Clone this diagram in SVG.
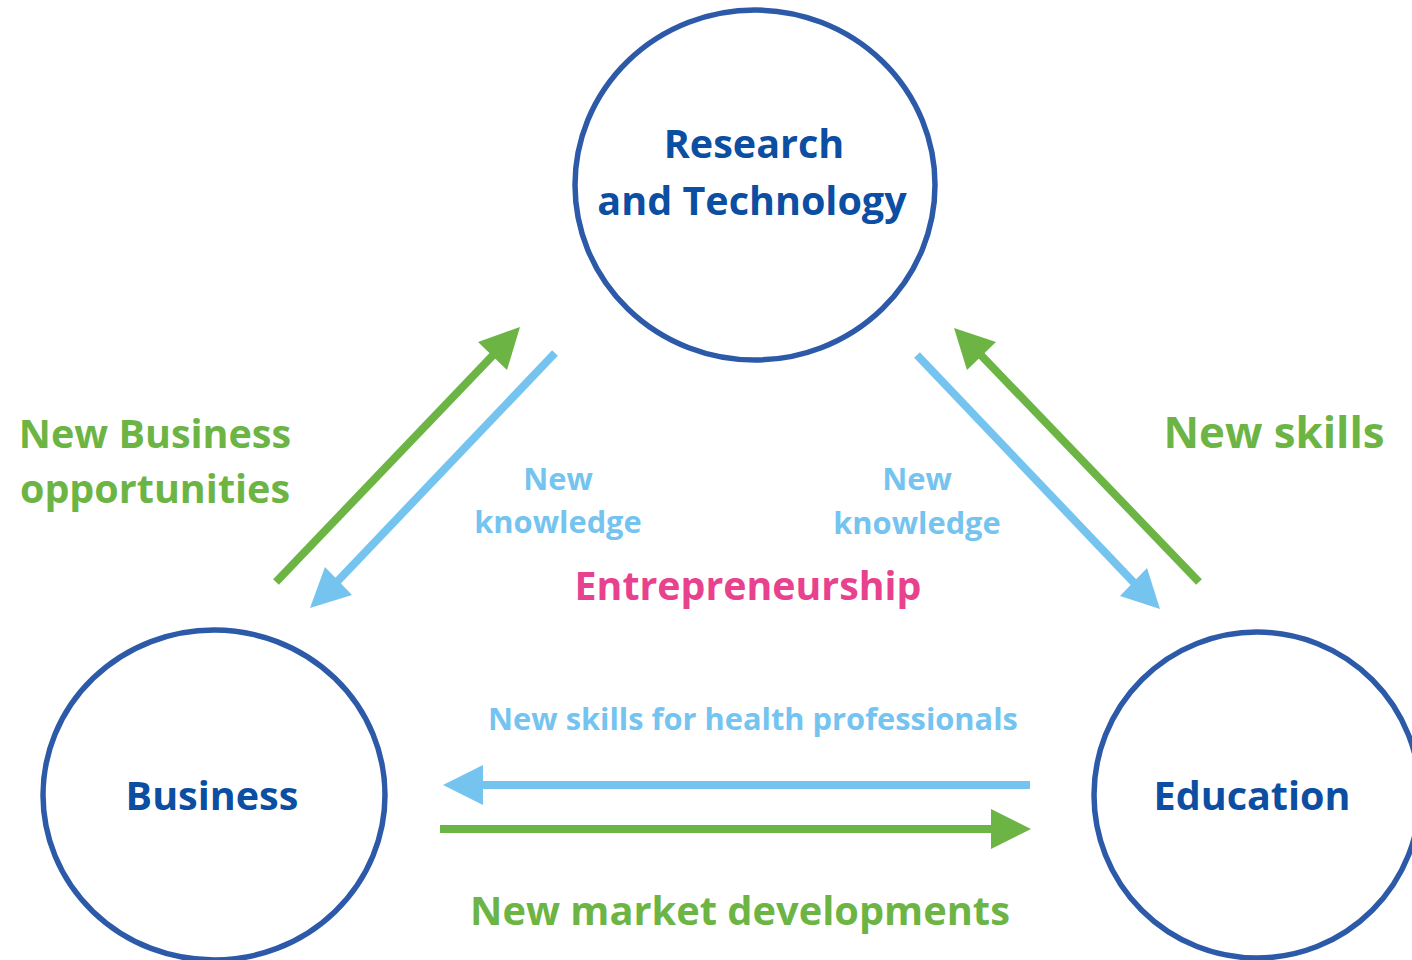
<svg xmlns="http://www.w3.org/2000/svg" width="1412" height="960" viewBox="0 0 1412 960">
<style>
.node{fill:#ffffff;stroke:#2c5aa8;stroke-width:5.5}
.t{font-family:"Open Sans","Liberation Sans",sans-serif;font-weight:bold;text-anchor:middle}
.nl{fill:#0b4ea2;font-size:39.5px}
.g{fill:#6cb545}
.b{fill:#74c4ef}
.p{fill:#e8428f}
.gl{stroke:#6cb545;stroke-width:8;fill:none}
.bl{stroke:#74c4ef;stroke-width:8;fill:none}
</style>
<rect width="1412" height="960" fill="#ffffff"/>
<g id="connectors">
<line class="gl" x1="276" y1="582" x2="497" y2="351"/>
<polygon class="g" points="520,327 478,342 507,370"/>
<line class="bl" x1="555" y1="353" x2="333" y2="586"/>
<polygon class="b" points="310,608 325,567 352,595"/>
<line class="gl" x1="1199" y1="582" x2="977" y2="351"/>
<polygon class="g" points="954,328 996,342 967,370"/>
<line class="bl" x1="917" y1="355" x2="1138" y2="587"/>
<polygon class="b" points="1160,609 1120,596 1147,568"/>
<line class="bl" x1="1030" y1="785" x2="480" y2="785"/>
<polygon class="b" points="443,785 483,765 483,805"/>
<line class="gl" x1="440" y1="829" x2="994" y2="829"/>
<polygon class="g" points="1031,829 991,809 991,849"/>
</g>
<g id="research">
<ellipse class="node" cx="755" cy="185" rx="180" ry="175"/>
<text class="t nl" x="754" y="158">Research</text>
<text class="t nl" x="752" y="215">and Technology</text>
</g>
<g id="business">
<ellipse class="node" cx="214" cy="795" rx="171" ry="165"/>
<text class="t nl" x="212" y="810">Business</text>
</g>
<g id="education">
<ellipse class="node" cx="1257" cy="795" rx="163" ry="163"/>
<text class="t nl" x="1252" y="810">Education</text>
</g>
<g id="labels">
<text class="t g" font-size="39.5" x="155" y="448">New Business</text>
<text class="t g" font-size="39.5" x="155" y="503">opportunities</text>
<text class="t g" font-size="43.8" x="1274" y="448">New skills</text>
<text class="t b" font-size="30.8" x="558" y="490">New</text>
<text class="t b" font-size="30.8" x="558" y="533">knowledge</text>
<text class="t b" font-size="30.8" x="917" y="490">New</text>
<text class="t b" font-size="30.8" x="917" y="534">knowledge</text>
<text class="t p" font-size="39.3" x="748" y="600">Entrepreneurship</text>
<text class="t b" font-size="30.8" x="753" y="730">New skills for health professionals</text>
<text class="t g" font-size="39.8" x="740" y="925">New market developments</text>
</g>
</svg>
